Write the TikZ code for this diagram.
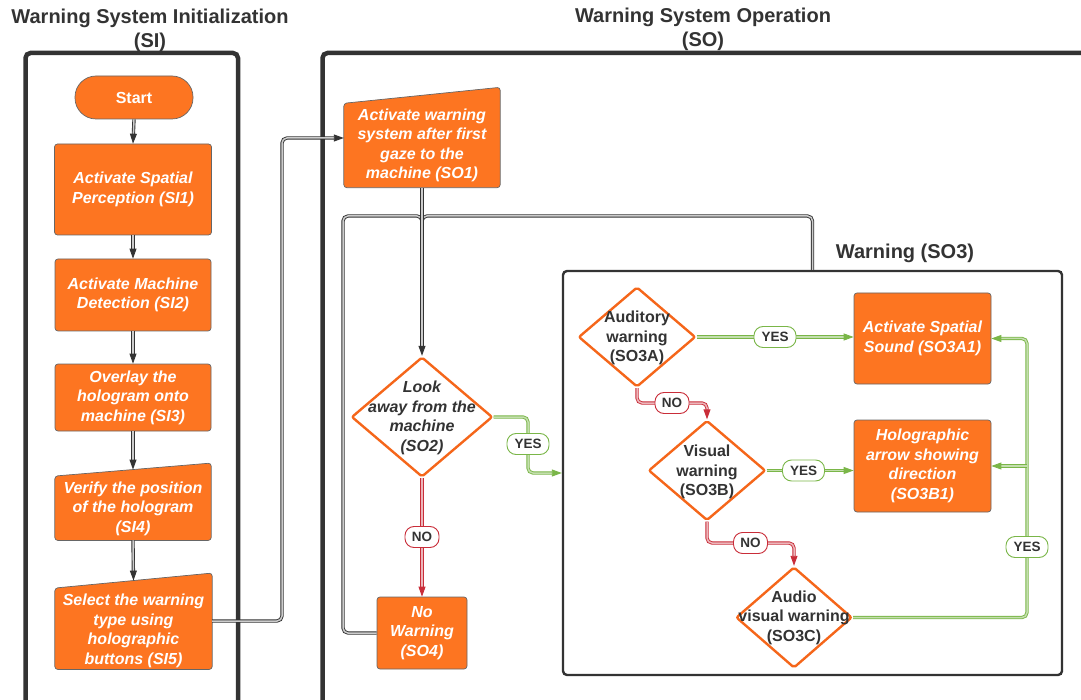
\documentclass[tikz,border=0pt]{standalone}
\usepackage{fontspec}
\setmainfont{Liberation Sans}
\usetikzlibrary{shapes.geometric,arrows.meta,calc,backgrounds}
\definecolor{orangefill}{HTML}{FD7521}
\definecolor{dark}{HTML}{333333}
\definecolor{dorange}{HTML}{F5661A}
\definecolor{gline}{HTML}{7AB648}
\definecolor{rline}{HTML}{C92D39}
\tikzset{
  titletext/.style={font=\fontsize{20}{24}\selectfont\bfseries, text=dark, align=center, inner sep=0pt},
  bigframe/.style={draw=dark, line width=4.5pt, rounded corners=5pt},
  so3frame/.style={draw=dark, line width=2.4pt, rounded corners=4pt, inner sep=0pt},
  box/.style={fill=orangefill, draw=black!60, line width=0.7pt, rounded corners=3pt, font=\fontsize{16}{19.5}\selectfont\bfseries\itshape, text=white, align=center, inner sep=0pt},
  term/.style={box, rounded corners=21pt, font=\fontsize{16}{19.5}\selectfont\bfseries},
  boxtext/.style={font=\fontsize{16}{19.5}\selectfont\bfseries\itshape, text=white, align=center, inner sep=0pt},
  manshape/.style={fill=orangefill, draw=black!60, line width=0.7pt, rounded corners=3pt},
  dia/.style={diamond, draw=dorange, fill=white, line width=2.4pt, inner sep=0pt, rounded corners=2pt},
  dtext/.style={font=\fontsize{16}{19.5}\selectfont\bfseries, text=dark, align=center, inner sep=0pt},
  conn/.style={draw=dark, double=gray!40, line width=0.9pt, double distance=1.5pt, rounded corners=5pt, -{Triangle[length=10pt,width=7pt]}},
  connplain/.style={draw=dark, double=gray!40, line width=0.9pt, double distance=1.5pt, rounded corners=5pt},
  gconn/.style={draw=gline, double=gline!45, line width=0.9pt, double distance=1.5pt, rounded corners=5pt, -{Triangle[length=10pt,width=7pt]}},
  rconn/.style={draw=rline, double=rline!35, line width=0.9pt, double distance=1.5pt, rounded corners=5pt, -{Triangle[length=10pt,width=7pt]}},
  lab/.style={fill=white, rounded corners=9pt, minimum height=21pt, line width=0.9pt, font=\fontsize{13.5}{15}\selectfont\bfseries, text=dark, inner sep=0pt},
  ylab/.style={lab, draw=gline, minimum width=42pt},
  nlab/.style={lab, draw=rline, minimum width=34pt},
}
\begin{document}
\begin{tikzpicture}[x=1pt,y=-1pt]
\useasboundingbox (0,0) rectangle (1081,700);
% titles
\node[titletext] (tsi) at (150,30.5) {Warning System Initialization\\(SI)};
\node[titletext] (tso) at (703,29.5) {Warning System Operation\\(SO)};
% frames
\draw[bigframe] (25.5,730) -- (25.5,53) -- (238,53) -- (238,730);
\draw[bigframe] (322.5,730) -- (322.5,53) -- (1110,53);
\node[so3frame, minimum width=499pt, minimum height=404pt] (so3) at (812.5,473) {};
\node[titletext] (tso3) at (905,253.5) {Warning (SO3)};
% SI nodes
\node[term, minimum width=118pt, minimum height=43pt] (start) at (134,97.5) {Start};
\node[box, minimum width=157pt, minimum height=91pt] (si1) at (133,189.5) {Activate Spatial\\Perception (SI1)};
\node[box, minimum width=156pt, minimum height=72pt] (si2) at (133,295) {Activate Machine\\Detection (SI2)};
\node[box, minimum width=156pt, minimum height=67pt] (si3) at (133,397.5) {Overlay the\\hologram onto\\machine (SI3)};
\node[minimum width=156pt, minimum height=70.5pt, inner sep=0pt] (si4) at (133,505) {};
\node[boxtext] (si4t) at (133,508.5) {Verify the position\\of the hologram\\(SI4)};
\node[minimum width=157pt, minimum height=88.5pt, inner sep=0pt] (si5) at (133.5,625) {};
\node[boxtext] (si5t) at (133.5,631) {Select the warning\\type using\\holographic\\buttons (SI5)};
% SO nodes
\node[minimum width=156pt, minimum height=92pt, inner sep=0pt] (so1) at (422,141.5) {};
\node[boxtext] (so1t) at (422,145.5) {Activate warning\\system after first\\gaze to the\\machine (SO1)};
\node[dia, minimum width=141pt, minimum height=120pt] (so2) at (422,417) {};
\node[dtext, font=\fontsize{16}{19.5}\selectfont\bfseries\itshape] (so2t) at (422,418) {Look\\away from the\\machine\\(SO2)};
\node[box, minimum width=90pt, minimum height=72pt] (so4) at (422,633) {No\\Warning\\(SO4)};
\node[dia, minimum width=117pt, minimum height=100pt] (so3a) at (637,337) {};
\node[dtext] (so3at) at (637,338) {Auditory\\warning\\(SO3A)};
\node[box, minimum width=137pt, minimum height=91pt] (so3a1) at (922.5,338.5) {Activate Spatial\\Sound (SO3A1)};
\node[dia, minimum width=117pt, minimum height=100pt] (so3b) at (707,470.5) {};
\node[dtext] (so3bt) at (707,472) {Visual\\warning\\(SO3B)};
\node[box, minimum width=137pt, minimum height=92pt] (so3b1) at (922.5,466) {Holographic\\arrow showing\\direction\\(SO3B1)};
\node[dia, minimum width=116pt, minimum height=101pt] (so3c) at (794,617.5) {};
\node[dtext] (so3ct) at (794,617.5) {Audio\\visual warning\\(SO3C)};
% manual input shapes
\begin{scope}[on background layer]
\path[manshape] (si4.south west) -- ($(si4.north west)+(0,6.5)$) -- ($(si4.north east)+(0,-6.5)$) -- (si4.south east) -- cycle;
\path[manshape] (si5.south west) -- ($(si5.north west)+(0,7.5)$) -- ($(si5.north east)+(0,-7.5)$) -- (si5.south east) -- cycle;
\path[manshape] (so1.south west) -- ($(so1.north west)+(0,8)$) -- ($(so1.north east)+(0,-8)$) -- (so1.south east) -- cycle;
\end{scope}
% SI connectors
\draw[conn] (start.south) -- (si1.north);
\draw[conn] (si1.south) -- (si2.north);
\draw[conn] (si2.south) -- (si3.north);
\draw[conn] (si3.south) -- (si4.north);
\draw[conn] (si4.south) -- (si5.north);
\draw[conn] ($(si5.east)+(0,-4)$) -- (282,621) -- (282,138) -- ($(so1.west)+(0,-3.5)$);
% loops back
\draw[connplain] (so4.west) -- (343,633) -- (343,216) -- (422,216) -- (422,240);
\draw[connplain] (so3.north) -- (812.5,216) -- (422,216) -- (422,240);
\draw[conn] (so1.south) -- (so2.north);
% SO2 branches
\draw[gconn] (so2.east) -- (528,417) -- (528,473) -- (so3.west);
\draw[rconn] (so2.south) -- (so4.north);
% SO3 branches
\draw[gconn] (so3a.east) -- (so3a.east -| so3a1.west);
\draw[rconn] (so3a.south) -- (637,403) -- (707,403) -- (so3b.north);
\draw[gconn] (so3b.east) -- (so3b.east -| so3b1.west);
\draw[rconn] (so3b.south) -- (707,543) -- (794,543) -- (so3c.north);
\draw[gconn] (so3c.east) -- (1027,617.5) -- (1027,338.5) -- (so3a1.east);
\draw[gconn] (1027,466) -- (so3b1.east);
% labels
\node[ylab] (y2) at (528,444) {YES};
\node[nlab] (n2) at (422,537) {NO};
\node[ylab] (ya) at (775,337) {YES};
\node[nlab] (na) at (672,403) {NO};
\node[ylab] (yb) at (803.5,470.5) {YES};
\node[nlab] (nb) at (750.5,543) {NO};
\node[ylab] (yc) at (1027,547) {YES};
\end{tikzpicture}
\end{document}
